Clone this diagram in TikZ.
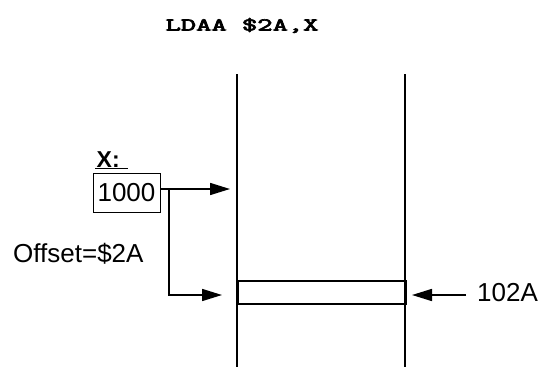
\documentclass[tikz,border=0pt]{standalone}
\usepackage{fontspec}
\setmainfont{Liberation Sans}
\newfontfamily\codefont[FakeBold=3.5]{Latin Modern Mono}
\usetikzlibrary{arrows.meta}
\begin{document}
\begin{tikzpicture}[x=1pt,y=-1pt,
  wall/.style={line width=1.8pt},
  cellline/.style={line width=1.6pt},
  conn/.style={line width=1.6pt,-{Triangle[length=20pt,width=12pt]}},
  lbl/.style={inner sep=0pt,font=\fontsize{26}{30}\selectfont},
]
\useasboundingbox (0,0) rectangle (539,367);
% title
\node[inner sep=0pt, anchor=base] (title) at (242,30.5)
  {\scalebox{1.65}[1]{\fontsize{18}{20}\codefont LDAA \$2A,X}};
% memory walls
\coordinate (wlt) at (237,74);
\coordinate (wlb) at (237,367);
\coordinate (wrt) at (405,74);
\coordinate (wrb) at (405,367);
\draw[wall] (wlt) -- (wlb);
\draw[wall] (wrt) -- (wrb);
% memory cell
\node[draw, cellline, inner sep=0pt, minimum width=168pt, minimum height=23pt, anchor=north west] (cell) at (237,280) {};
% register box
\node[draw, line width=1pt, minimum width=67pt, minimum height=39pt, lbl] (box) at (126.5,192.5) {1000};
\node[anchor=base west, inner sep=0pt, font=\fontsize{23}{25}\selectfont\bfseries] (xl) at (96.5,167) {X:};
\draw[line width=1.3pt] ([xshift=-1.5pt,yshift=-1.5pt]xl.base west) -- ++(33,0);
% arrows
\coordinate (t1) at (230,189);
\coordinate (j) at (169,189);
\coordinate (t2) at (222,295);
\coordinate (s3) at (466,295);
\coordinate (t3) at (412,295);
\draw[conn] (box.east |- t1) -- (t1);
\draw[conn] (j) |- (t2);
\draw[conn] (s3) -- (t3);
% labels
\node[lbl, anchor=base west] (off) at (13,262) {Offset=\$2A};
\node[lbl, anchor=base west] (addr) at (477,301) {102A};
\end{tikzpicture}
\end{document}
